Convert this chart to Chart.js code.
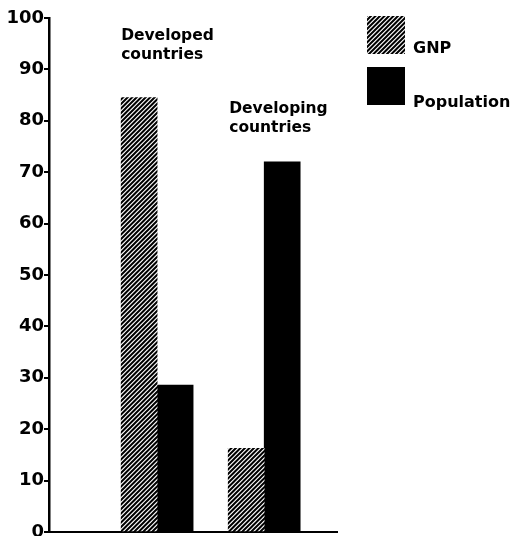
<!DOCTYPE html>
<html>
<head>
<meta charset="utf-8">
<style>
  html, body { margin: 0; padding: 0; background: #fff; }
</style>
</head>
<body>
<canvas id="chart" width="513" height="536"></canvas>
<script src="https://cdn.jsdelivr.net/npm/chart.js@4/dist/chart.umd.min.js"></script>
<script>
// Chart values
const groups = [['Developed', 'countries'], ['Developing', 'countries']];
const seriesNames = ['GNP', 'Population'];
const gnpValues = [84.5, 16.3];
const populationValues = [28.6, 72];
const yTickValues = [0, 10, 20, 30, 40, 50, 60, 70, 80, 90, 100];

const FONT = '"DejaVu Sans", sans-serif';

// diagonal hatching for the GNP bars (two stripes per 9px tile)
function makeHatch() {
    const size = 9;
    const step = size / 2;
    const c = document.createElement('canvas');
    c.width = size;
    c.height = size;
    const g = c.getContext('2d');
    g.fillStyle = '#fff';
    g.fillRect(0, 0, size, size);
    g.strokeStyle = '#000';
    g.lineWidth = 2;
    g.beginPath();
    for (let s = 0; s <= size * 2; s += step) {
        g.moveTo(s - size - 1, size + 1);
        g.lineTo(s + 1, -1);
    }
    g.stroke();
    return g.createPattern(c, 'repeat');
}

// group captions written above each pair of bars
const groupLabels = {
    id: 'groupLabels',
    afterDatasetsDraw(chart, args, opts) {
        const ctx = chart.ctx;
        const yScale = chart.scales.y;
        const meta = chart.getDatasetMeta(0);
        ctx.save();
        ctx.fillStyle = '#000';
        ctx.font = 'bold 15.5px ' + FONT;
        ctx.textAlign = 'left';
        ctx.textBaseline = 'alphabetic';
        groups.forEach((lines, i) => {
            const bar = meta.data[i];
            const x = bar.x - bar.width / 2 + opts.shift[i];
            const y = yScale.getPixelForValue(opts.level[i]);
            lines.forEach((line, k) => ctx.fillText(line, x, y + k * 19));
        });
        ctx.restore();
    }
};

// legend on the right: swatch with the name next to its lower edge
const sideLegend = {
    id: 'sideLegend',
    afterDraw(chart) {
        const ctx = chart.ctx;
        ctx.save();
        ctx.font = 'bold 16px ' + FONT;
        ctx.textBaseline = 'alphabetic';
        chart.data.datasets.forEach((ds, k) => {
            const top = 16 + k * 51;
            ctx.fillStyle = ds.backgroundColor;
            ctx.fillRect(367, top, 38, 38);
            ctx.fillStyle = '#000';
            ctx.fillText(ds.label, 413, top + 37 + k * 3);
        });
        ctx.restore();
    }
};

const ctx = document.getElementById('chart').getContext('2d');
const hatch = makeHatch();

const chart = new Chart(ctx, {
    type: 'bar',
    data: {
        datasets: [
            {
                label: seriesNames[0],
                data: gnpValues.map((v, i) => ({ x: i, y: v })),
                backgroundColor: hatch,
                borderWidth: 0
            },
            {
                label: seriesNames[1],
                data: populationValues.map((v, i) => ({ x: i, y: v })),
                backgroundColor: '#000',
                borderWidth: 0
            }
        ]
    },
    options: {
        responsive: false,
        animation: false,
        devicePixelRatio: 1,
        barThickness: 36,
        layout: {
            padding: { top: 18, right: 176, bottom: 4, left: 0 }
        },
        plugins: {
            legend: { display: false },
            tooltip: { enabled: false },
            groupLabels: { level: [95.7, 81.5], shift: [0, 1] }
        },
        scales: {
            x: {
                type: 'linear',
                offset: false,
                min: -1.01,
                max: 1.68,
                ticks: { display: false },
                grid: { display: false, drawTicks: false, offset: false },
                border: { display: true, color: '#000', width: 2 }
            },
            y: {
                min: 0,
                max: 100,
                afterBuildTicks: (scale) => {
                    scale.ticks = yTickValues.map(v => ({ value: v }));
                },
                afterFit: (scale) => {
                    // fixed axis width, and let the "0" label run off the bottom edge
                    scale.width = 49;
                    scale.paddingTop = 0;
                    scale.paddingBottom = 0;
                },
                ticks: {
                    color: '#000',
                    padding: 0,
                    font: { family: FONT, size: 18, weight: 'bold' }
                },
                grid: {
                    drawOnChartArea: false,
                    drawTicks: true,
                    tickLength: 5,
                    color: '#000',
                    lineWidth: 2
                },
                border: { display: true, color: '#000', width: 2.5 }
            }
        }
    },
    plugins: [groupLabels, sideLegend]
});
</script>
</body>
</html>
